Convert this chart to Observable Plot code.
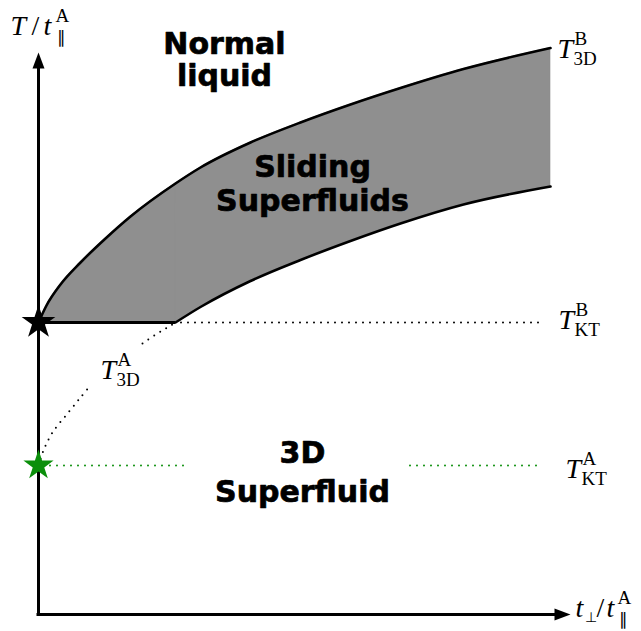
<!DOCTYPE html>
<html><head><meta charset="utf-8">
<script src="https://cdn.jsdelivr.net/npm/d3@7"></script>
<script src="https://cdn.jsdelivr.net/npm/@observablehq/plot@0.6"></script>
<style>body{margin:0;background:#fff}</style>
</head><body><div id="chart"></div>
<script>
// ---- data (t_perp / t_par^A on x, T / t_par^A on y, arbitrary units) ----
const tPerp      = [0,    0.08, 0.22, 0.42, 0.67, 0.92, 1.37, 1.62,  2.12,  2.62,  3.12,  3.62, 4.25, 5.12];
const T3D_B      = [2.92, 3.09, 3.30, 3.52, 3.76, 3.98, 4.31, 4.47,  4.72,  4.92,  5.10,  5.265, 5.455, 5.665];
const lowerBound = [2.92, 2.92, 2.92, 2.92, 2.92, 2.92, 2.92, 3.075, 3.335, 3.545, 3.735, 3.91, 4.10, 4.28];
const TKT_B = 2.92;
const TKT_A = 1.49;
const kink = 1.37;          // where T3D^A meets TKT^B
const lineEnd = 5.02;       // end of the dotted guide lines
const t3dA_x = [0,    0.05, 0.14, 0.29, 0.42, 0.52, 0.78, 1.04, 1.19, 1.29, 1.37];
const t3dA_y = [1.49, 1.64, 1.82, 2.01, 2.17, 2.29, NaN,  2.71, 2.81, 2.87, 2.92];
const greenSegs = [[0.12, 1.52], [3.72, 5.02]];

const band = tPerp.map((x, i) => ({x, lo: lowerBound[i], hi: T3D_B[i]}));
const bandA = band.filter(d => d.x <= kink);
const bandB = band.filter(d => d.x >= kink);
const t3dA = t3dA_x.map((x, i) => ({x, y: t3dA_y[i]}));

const arrowHead = {
  draw(ctx, size) {
    const r = Math.sqrt(size / Math.PI);
    ctx.moveTo(0, -1.6 * r);
    ctx.lineTo(1.2 * r, 1.6 * r);
    ctx.lineTo(-1.2 * r, 1.6 * r);
    ctx.closePath();
  }
};

const serif = "Liberation Serif, Times New Roman, serif";
function piece(x, y, str, {dx = 0, dy = 0, size = 28, italic = false} = {}) {
  return Plot.text([str], {
    x: [x], y: [y], text: d => d, dx, dy,
    fontSize: size, fontStyle: italic ? "italic" : "normal",
    fontFamily: serif, textAnchor: "start", lineAnchor: "bottom", fill: "black"
  });
}
function tLabel(x, y, sup, sub) {
  return [
    piece(x, y, "T", {italic: true}),
    piece(x, y, sup, {dx: 17, dy: -13, size: 19}),
    piece(x, y, sub, {dx: 16, dy: 7, size: 19})
  ];
}
const bold = {fontFamily: "DejaVu Sans, sans-serif", fontWeight: "bold", fontSize: 30,
              textAnchor: "middle", lineAnchor: "bottom", fill: "black",
              stroke: "black", strokeWidth: 0.7};
function word(x, y, s) { return Plot.text([s], {x: [x], y: [y], text: d => d, ...bold}); }

const chart = Plot.plot({
  width: 641, height: 631,
  marginTop: 0, marginRight: 0, marginBottom: 0, marginLeft: 0,
  x: {domain: [-0.38, 6.03], axis: null},
  y: {domain: [-0.17, 6.14], axis: null},
  style: {background: "#fff"},
  marks: [
    Plot.areaY(bandA, {x: "x", y1: "lo", y2: "hi", fill: "#8f8f8f", stroke: "#8f8f8f", strokeWidth: 0.6, curve: "monotone-x"}),
    Plot.areaY(bandB, {x: "x", y1: "lo", y2: "hi", fill: "#8f8f8f", stroke: "#8f8f8f", strokeWidth: 0.6, curve: "monotone-x"}),
    // boundaries
    Plot.line(band, {x: "x", y: "hi", stroke: "black", strokeWidth: 2.6, curve: "monotone-x"}),
    Plot.line(bandB, {x: "x", y: "lo", stroke: "black", strokeWidth: 2.6, curve: "monotone-x"}),
    Plot.ruleY([TKT_B], {x1: 0, x2: kink, stroke: "black", strokeWidth: 3}),
    // dotted guides
    Plot.ruleY([TKT_B], {x1: kink + 0.06, x2: lineEnd, stroke: "black", strokeWidth: 2, strokeDasharray: "0,7", strokeLinecap: "round"}),
    Plot.line(t3dA, {x: "x", y: "y", stroke: "black", strokeWidth: 2, strokeDasharray: "0,7", strokeLinecap: "round", curve: "catmull-rom"}),
    Plot.ruleY(greenSegs, {y: () => TKT_A, x1: d => d[0], x2: d => d[1], stroke: "#0b8f0b", strokeWidth: 2, strokeDasharray: "0,7", strokeLinecap: "round"}),
    // axes
    Plot.ruleX([0], {y1: -0.01, y2: 5.47, stroke: "black", strokeWidth: 3}),
    Plot.ruleY([0], {x1: -0.015, x2: 5.17, stroke: "black", strokeWidth: 3}),
    Plot.dot([{x: 0, y: 5.54, a: 0}, {x: 5.24, y: 0, a: 90}], {x: "x", y: "y", rotate: "a", symbol: arrowHead, r: 5, fill: "black", stroke: "none"}),
    // critical points
    Plot.dot([{x: 0, y: TKT_B}], {x: "x", y: "y", symbol: "star", r: 10.6, fill: "black"}),
    Plot.dot([{x: 0, y: TKT_A}], {x: "x", y: "y", symbol: "star", r: 9.5, fill: "#0b8f0b"}),
    // region names
    word(1.86, 5.61, "Normal"), word(1.86, 5.29, "liquid"),
    word(2.74, 4.38, "Sliding"), word(2.74, 4.04, "Superfluids"),
    word(2.64, 1.52, "3D"), word(2.64, 1.13, "Superfluid"),
    // curve labels
    ...tLabel(5.19, 5.57, "B", "3D"),
    ...tLabel(5.20, 2.86, "B", "KT"),
    ...tLabel(5.27, 1.37, "A", "KT"),
    ...tLabel(0.62, 2.36, "A", "3D"),
    // axis labels
    piece(-0.28, 5.80, "T", {italic: true}),
    piece(-0.28, 5.80, "/", {dx: 21}),
    piece(-0.28, 5.80, "t", {dx: 33, italic: true}),
    piece(-0.28, 5.80, "A", {dx: 45, dy: -13, size: 19}),
    piece(-0.28, 5.80, "∥", {dx: 46, dy: 8, size: 17}),
    piece(5.37, -0.02, "t", {italic: true}),
    piece(5.37, -0.02, "⊥", {dx: 9, dy: 5, size: 14}),
    piece(5.37, -0.02, "/", {dx: 21}),
    piece(5.37, -0.02, "t", {dx: 31, italic: true}),
    piece(5.37, -0.02, "A", {dx: 42, dy: -13, size: 19}),
    piece(5.37, -0.02, "∥", {dx: 43, dy: 8, size: 17})
  ]
});
document.getElementById("chart").append(chart);
</script>
</body></html>
